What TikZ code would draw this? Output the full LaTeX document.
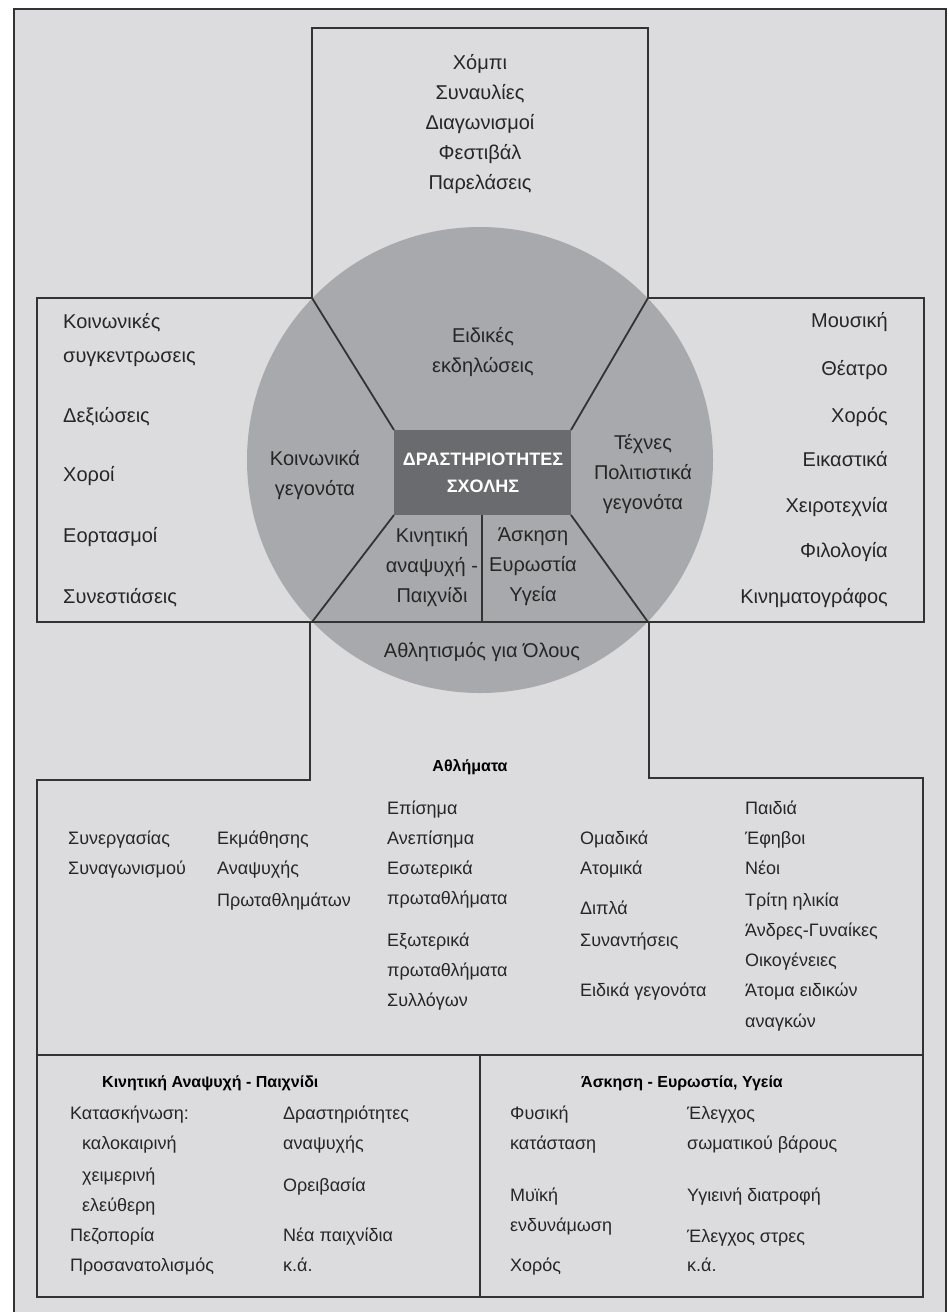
\documentclass[tikz,border=0pt]{standalone}
\usepackage{fontspec}
\setmainfont{Liberation Sans}
\definecolor{bgc}{HTML}{DCDCDE}
\definecolor{circc}{HTML}{A8A9AD}
\definecolor{darkc}{HTML}{6A6B6E}
\definecolor{linec}{HTML}{333333}
\definecolor{textc}{HTML}{262626}
\begin{document}
\begin{tikzpicture}[x=1pt,y=-1pt,
  ln/.style={draw=linec, line width=1.8pt},
  tx/.style={font=\fontsize{20}{22}\selectfont, text=textc, inner sep=0pt, text height=14pt, text depth=4pt},
  tl/.style={tx, anchor=west},
  tr/.style={tx, anchor=east},
  bt/.style={tl, font=\fontsize{18}{22}\selectfont, text height=13pt, text depth=4pt},
  ml/.style={text=textc, inner sep=0pt, align=center, font=\fontsize{20}{30}\selectfont},
  hd/.style={font=\bfseries\fontsize{16}{20}\selectfont, text=black, inner sep=0pt, text height=12pt, text depth=4pt}]
\useasboundingbox (0,0) rectangle (949,1312);
\clip (0,0) rectangle (949,1312);
\fill[white] (0,0) rectangle (949,1312);
\draw[ln, fill=bgc] (14,9) rectangle (946,1340);
% key corners
\coordinate (TL) at (312,298);
\coordinate (TR) at (648,298);
\coordinate (BL) at (312,622);
\coordinate (BR) at (648,622);
\coordinate (rTL) at (394,430);
\coordinate (rTR) at (571,430);
\coordinate (rBL) at (394,515);
\coordinate (rBR) at (571,515);
\coordinate (div) at (482,515);
\coordinate (divb) at (482,622);
% boxes
\draw[ln] (TL) -- (312,28) -- (648,28) -- (TR);
\draw[ln] (TL) -- (37,298) -- (37,622) -- (BL);
\draw[ln] (TR) -- (924,298) -- (924,622) -- (BR);
\draw[ln] (310,622) -- (310,780) -- (37,780) -- (37,1297) -- (923,1297) -- (923,778) -- (649,778) -- (649,622);
\draw[ln] (37,1055) -- (923,1055);
\draw[ln] (480,1055) -- (480,1297);
% circle
\fill[circc] (480,460) circle[radius=233pt];
\fill[darkc] (rTL) rectangle (rBR);
\draw[ln] (TL) -- (rTL);
\draw[ln] (TR) -- (rTR);
\draw[ln] (BL) -- (rBL);
\draw[ln] (BR) -- (rBR);
\draw[ln] (BL) -- (BR);
\draw[ln] (div) -- (divb);
% top box
\node[ml] (top) at (480,124) {Χόμπι\\Συναυλίες\\Διαγωνισμοί\\Φεστιβάλ\\Παρελάσεις};
% left box
\node[tl] (l1) at (63,323) {Κοινωνικές};
\node[tl] (l2) at (63,357) {συγκεντρωσεις};
\node[tl] (l3) at (63,417) {Δεξιώσεις};
\node[tl] (l4) at (63,476) {Χοροί};
\node[tl] (l5) at (63,537) {Εορτασμοί};
\node[tl] (l6) at (63,598) {Συνεστιάσεις};
% right box
\node[tr] (r1) at (888,322) {Μουσική};
\node[tr] (r2) at (888,370) {Θέατρο};
\node[tr] (r3) at (888,417) {Χορός};
\node[tr] (r4) at (888,461) {Εικαστικά};
\node[tr] (r5) at (888,507) {Χειροτεχνία};
\node[tr] (r6) at (888,552) {Φιλολογία};
\node[tr] (r7) at (888,598) {Κινηματογράφος};
% circle labels
\node[ml] (c1) at (483,352) {Ειδικές\\εκδηλώσεις};
\node[ml] (c2) at (315,475) {Κοινωνικά\\γεγονότα};
\node[ml] (c3) at (643,474) {Τέχνες\\Πολιτιστικά\\γεγονότα};
\node[ml, text=white, font=\bfseries\fontsize{18}{27}\selectfont] (c0) at (483,473) {ΔΡΑΣΤΗΡΙΟΤΗΤΕΣ\\ΣΧΟΛΗΣ};
\node[ml] (c4) at (432,567) {Κινητική\\αναψυχή -\\Παιχνίδι};
\node[ml] (c5) at (533,567) {Άσκηση\\Ευρωστία\\Υγεία};
\node[tx] (c6) at (482,652) {Αθλητισμός για Όλους};
% bottom box
\node[hd] (h1) at (470,767) {Αθλήματα};
\node[bt] (a1) at (68,840) {Συνεργασίας};
\node[bt] (a2) at (68,870) {Συναγωνισμού};
\node[bt] (b1) at (217,840) {Εκμάθησης};
\node[bt] (b2) at (217,870) {Αναψυχής};
\node[bt] (b3) at (217,902) {Πρωταθλημάτων};
\node[bt] (d1) at (387,810) {Επίσημα};
\node[bt] (d2) at (387,840) {Ανεπίσημα};
\node[bt] (d3) at (387,870) {Εσωτερικά};
\node[bt] (d4) at (387,900) {πρωταθλήματα};
\node[bt] (d5) at (387,942) {Εξωτερικά};
\node[bt] (d6) at (387,972) {πρωταθλήματα};
\node[bt] (d7) at (387,1002) {Συλλόγων};
\node[bt] (e1) at (580,840) {Ομαδικά};
\node[bt] (e2) at (580,870) {Ατομικά};
\node[bt] (e3) at (580,910) {Διπλά};
\node[bt] (e4) at (580,942) {Συναντήσεις};
\node[bt] (e5) at (580,992) {Ειδικά γεγονότα};
\node[bt] (f1) at (745,810) {Παιδιά};
\node[bt] (f2) at (745,840) {Έφηβοι};
\node[bt] (f3) at (745,870) {Νέοι};
\node[bt] (f4) at (745,902) {Τρίτη ηλικία};
\node[bt] (f5) at (745,932) {Άνδρες-Γυναίκες};
\node[bt] (f6) at (745,962) {Οικογένειες};
\node[bt] (f7) at (745,992) {Άτομα ειδικών};
\node[bt] (f8) at (745,1023) {αναγκών};
% bottom left
\node[hd, anchor=west] (h2) at (102,1083) {Κινητική Αναψυχή - Παιχνίδι};
\node[bt] (g1) at (70,1115) {Κατασκήνωση:};
\node[bt] (g2) at (82,1145) {καλοκαιρινή};
\node[bt] (g3) at (82,1177) {χειμερινή};
\node[bt] (g4) at (82,1207) {ελεύθερη};
\node[bt] (g5) at (70,1237) {Πεζοπορία};
\node[bt] (g6) at (70,1267) {Προσανατολισμός};
\node[bt] (k1) at (283,1115) {Δραστηριότητες};
\node[bt] (k2) at (283,1145) {αναψυχής};
\node[bt] (k3) at (283,1187) {Ορειβασία};
\node[bt] (k4) at (283,1237) {Νέα παιχνίδια};
\node[bt] (k5) at (283,1267) {κ.ά.};
% bottom right
\node[hd] (h3) at (682,1083) {Άσκηση - Ευρωστία, Υγεία};
\node[bt] (m1) at (510,1115) {Φυσική};
\node[bt] (m2) at (510,1145) {κατάσταση};
\node[bt] (m3) at (510,1197) {Μυϊκή};
\node[bt] (m4) at (510,1227) {ενδυνάμωση};
\node[bt] (m5) at (510,1267) {Χορός};
\node[bt] (n1) at (687,1115) {Έλεγχος};
\node[bt] (n2) at (687,1145) {σωματικού βάρους};
\node[bt] (n3) at (687,1197) {Υγιεινή διατροφή};
\node[bt] (n4) at (687,1238) {Έλεγχος στρες};
\node[bt] (n5) at (687,1267) {κ.ά.};
\end{tikzpicture}
\end{document}
